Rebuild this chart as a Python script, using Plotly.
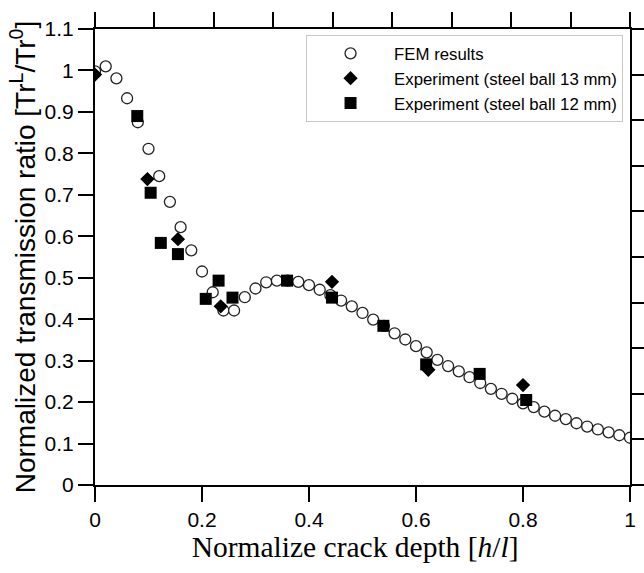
import plotly.graph_objects as go

# FEM results (x step 0.02)
fem_x = [round(0.02 * i, 2) for i in range(51)]
fem_y = [0.998, 1.010, 0.981, 0.933, 0.875, 0.811, 0.745, 0.683, 0.622, 0.566,
         0.515, 0.465, 0.421, 0.421, 0.453, 0.474, 0.489, 0.493, 0.493, 0.490,
         0.482, 0.471, 0.458, 0.445, 0.431, 0.415, 0.399, 0.384, 0.366, 0.351,
         0.335, 0.320, 0.302, 0.287, 0.274, 0.260, 0.246, 0.232, 0.220, 0.208,
         0.197, 0.188, 0.177, 0.167, 0.159, 0.149, 0.141, 0.134, 0.127, 0.120,
         0.114]

# Experiment (steel ball 13 mm)
exp13_x = [0.0, 0.098, 0.155, 0.235, 0.443, 0.623, 0.80]
exp13_y = [0.990, 0.738, 0.593, 0.431, 0.490, 0.278, 0.241]

# Experiment (steel ball 12 mm)
exp12_x = [0.079, 0.104, 0.123, 0.155, 0.207, 0.231, 0.257, 0.359, 0.443, 0.539, 0.619, 0.719, 0.806]
exp12_y = [0.890, 0.705, 0.584, 0.557, 0.449, 0.493, 0.452, 0.493, 0.452, 0.384, 0.291, 0.268, 0.205]

x_ticks = [0, 0.2, 0.4, 0.6, 0.8, 1]
y_ticks = [round(0.1 * i, 1) for i in range(12)]

fig = go.Figure()
fig.add_trace(go.Scatter(
    x=fem_x, y=fem_y, mode="markers", name="FEM results",
    marker=dict(symbol="circle", size=11, color="white",
                line=dict(color="#222222", width=1.3))))
fig.add_trace(go.Scatter(
    x=exp13_x, y=exp13_y, mode="markers", name="Experiment (steel ball 13 mm)",
    marker=dict(symbol="diamond", size=11, color="black", line=dict(width=0))))
fig.add_trace(go.Scatter(
    x=exp12_x, y=exp12_y, mode="markers", name="Experiment (steel ball 12 mm)",
    marker=dict(symbol="square", size=12, color="black", line=dict(width=0))))
# dummy trace to activate the top/right frame axes
fig.add_trace(go.Scatter(x=[None], y=[None], xaxis="x2", yaxis="y2",
                         showlegend=False, hoverinfo="skip"))

tickfont = dict(family="Liberation Sans, Arial, sans-serif", size=21, color="black")
common = dict(showgrid=False, zeroline=False, showline=True, linecolor="black",
              linewidth=2, ticks="outside", ticklen=15, tickwidth=2, tickcolor="black",
              automargin=False)

fig.update_layout(
    width=644, height=573,
    margin=dict(l=95, r=14, t=29, b=88),
    paper_bgcolor="white", plot_bgcolor="white",
    showlegend=True,
    legend=dict(x=0.987, y=0.987, xanchor="right", yanchor="top",
                bgcolor="white", bordercolor="#c8c8c8", borderwidth=1,
                font=dict(family="Liberation Sans, Arial, sans-serif", size=16.8, color="black"),
                itemwidth=77, tracegroupgap=0),
    xaxis=dict(range=[0, 1], tickvals=x_ticks, tickfont=tickfont,
               title=dict(text="Normalize crack depth [<i>h</i>/<i>l</i>]&nbsp;&nbsp;",
                          font=dict(family="Liberation Serif, Times New Roman, serif",
                                    size=29.5, color="black"), standoff=6),
               **common),
    yaxis=dict(range=[0, 1.1], tickvals=y_ticks, tickfont=tickfont,
               title=dict(text="Normalized transmission ratio [Tr<sup>L</sup>/Tr<sup>0</sup>]",
                          font=dict(family="Liberation Sans, Arial, sans-serif",
                                    size=28, color="black"), standoff=1),
               **common),
    xaxis2=dict(overlaying="x", side="top", anchor="y", range=[0, 9], dtick=1,
                showticklabels=False, **common),
    yaxis2=dict(overlaying="y", side="right", anchor="x", range=[0, 10], dtick=1,
                showticklabels=False, **common),
)

fig.write_html("out.html")
